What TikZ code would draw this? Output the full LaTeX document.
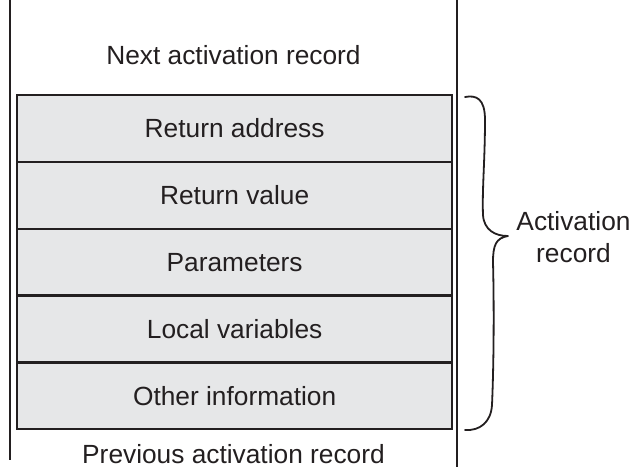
\documentclass[tikz,border=0pt]{standalone}
\usepackage{fontspec}
\setmainfont{Liberation Sans}
\definecolor{ink}{HTML}{231F20}
\definecolor{slotfill}{HTML}{E6E7E8}
\newcommand{\lbl}{\fontsize{26.3}{31}\selectfont}
\begin{document}
\begin{tikzpicture}[x=1pt,y=-1pt,
  slot/.style={draw=ink, line width=2.3pt, fill=slotfill, minimum width=435pt,
    minimum height=66.8pt, inner sep=0pt, anchor=north west, font=\lbl, text=ink},
  caption/.style={font=\lbl, text=ink, inner sep=0pt, anchor=base},
  rail/.style={draw=ink, line width=2pt},
  bracestroke/.style={draw=ink, line width=1.8pt, line cap=round, line join=round}]
\useasboundingbox (0,0) rectangle (633,467);

% stack walls
\coordinate (lt) at (10,0);
\coordinate (lb) at (10,460);
\coordinate (rt) at (457,0);
\coordinate (rb) at (457,467);
\draw[rail] (lt) -- (lb);
\draw[rail] (rt) -- (rb);

% fields of one activation record
\node[slot] (ret)   at (16,94)    {Return address};
\node[slot] (val)   at (16,160.8) {Return value};
\node[slot] (par)   at (16,227.6) {Parameters};
\node[slot] (loc)   at (16,294.4) {Local variables};
\node[slot] (other) at (16,361.2) {Other information};

% neighbouring records
\node[caption] (next) at (233.5,64)  {Next activation record};
\node[caption] (prev) at (233.5,463) {Previous activation record};

% curly brace grouping the record
\coordinate (btop) at (465,97);
\coordinate (btip) at (508,236);
\coordinate (bbot) at (465,430);
\draw[bracestroke] (btop) .. controls (476,95) and (485,98) .. (485,120)
  .. controls (485,160) and (482,190) .. (483,215)
  .. controls (484,230) and (495,236) .. (btip)
  .. controls (496,238) and (493,245) .. (493,262)
  .. controls (494,300) and (494,360) .. (492,405)
  .. controls (491,422) and (480,431) .. (bbot);

\node[caption] (act1) at (573.5,230) {Activation};
\node[caption] (act2) at (573.5,262) {record};
\end{tikzpicture}
\end{document}
